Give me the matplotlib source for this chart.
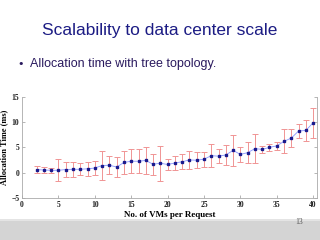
import matplotlib.pyplot as plt
from matplotlib.patches import Rectangle
import numpy as np

vms = list(range(2, 41))
alloc_time = [0.6, 0.5, 0.45, 0.45, 0.6, 0.65, 0.65, 0.75, 0.9, 1.4,
              1.45, 1.1, 2.0, 2.25, 2.25, 2.4, 1.65, 1.85, 1.6, 1.9,
              2.15, 2.5, 2.45, 2.65, 3.35, 3.25, 3.5, 4.4, 3.6, 3.95,
              4.75, 4.6, 5.0, 5.3, 6.2, 6.85, 8.25, 8.35, 9.9]
alloc_err = [0.7, 0.65, 0.55, 2.2, 1.5, 1.5, 1.2, 1.35, 1.3, 2.8,
             1.8, 2.05, 2.35, 2.4, 2.4, 2.75, 2.05, 3.45, 1.15, 1.4,
             1.45, 1.8, 1.6, 1.5, 2.3, 1.45, 1.95, 3.05, 1.5, 2.15,
             2.95, 0.7, 0.7, 0.85, 2.4, 1.75, 1.4, 2.1, 2.95]
xticks = [0, 5, 10, 15, 20, 25, 30, 35, 40]
yticks = [-5, 0, 5, 10, 15]

fig = plt.figure(figsize=(3.2, 2.4), dpi=100)
fig.patch.set_facecolor('white')

# grey band at the bottom of the slide
fig.patches.append(Rectangle((0, 0), 1, 0.085, transform=fig.transFigure,
                             facecolor='#d4d4d4', edgecolor='none', zorder=0))
fig.patches.append(Rectangle((0, 0.078), 1, 0.01, transform=fig.transFigure,
                             facecolor='#e4e4e4', edgecolor='none', zorder=0))

fig.text(0.5, 0.875, 'Scalability to data center scale', ha='center', va='center',
         fontsize=12.5, color='#1c1c84', family='Liberation Sans')
fig.text(0.065, 0.733, '\u2022', ha='center', va='center', fontsize=8, color='#2a1a5e')
fig.text(0.093, 0.733, 'Allocation time with tree topology.', ha='left', va='center',
         fontsize=9, color='#2a1a5e', family='Liberation Sans')
fig.text(0.935, 0.073, '13', ha='center', va='center', fontsize=5.5, color='#555555',
         family='Liberation Serif')

ax = fig.add_axes([0.069, 0.176, 0.921, 0.42])
ax.errorbar(vms, alloc_time, yerr=alloc_err, fmt='none', ecolor='#f09494',
            elinewidth=0.7, capsize=2.2, capthick=0.7, zorder=2)
ax.plot(vms, alloc_time, color='#8a96ff', lw=0.6, zorder=3)
ax.plot(vms, alloc_time, 's', color='#1a1a8c', ms=1.8, zorder=4)

ax.set_xlim(0, 40.5)
ax.set_ylim(-5, 15)
ax.set_xticks(xticks)
ax.set_yticks(yticks)
ax.tick_params(direction='in', length=2, width=0.5, colors='#999999', labelsize=5.5,
               labelcolor='#222222', pad=2, right=True)
for lab in ax.get_xticklabels() + ax.get_yticklabels():
    lab.set_family('Liberation Serif')
    lab.set_fontweight('bold')
for s in ax.spines.values():
    s.set_color('#aaaaaa')
    s.set_linewidth(0.6)
ax.spines['top'].set_visible(False)

ax.set_xlabel('No. of VMs per Request', fontsize=6.5, fontweight='bold',
              family='Liberation Serif', labelpad=2)
ax.set_ylabel('Allocation Time (ms)', fontsize=6, fontweight='bold',
              family='Liberation Serif', labelpad=2)

fig.savefig('out.png', dpi=100)
